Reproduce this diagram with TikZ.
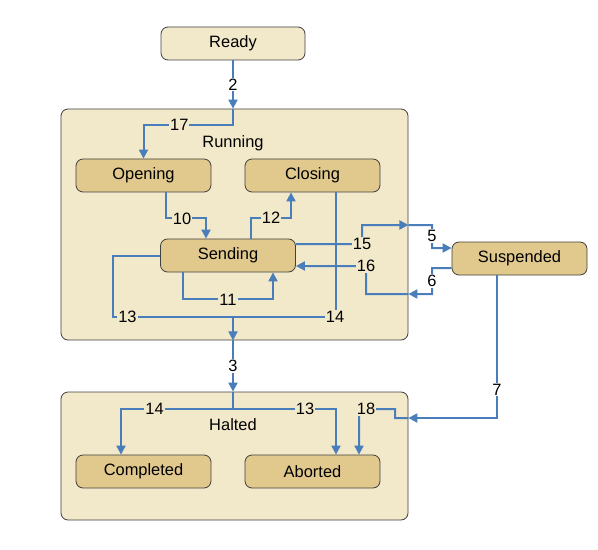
\documentclass[tikz,border=0pt]{standalone}
\usepackage{fontspec}
\setmainfont{Liberation Sans}
\usetikzlibrary{arrows.meta}
\definecolor{groupfill}{HTML}{F2E8CA}
\definecolor{statefill}{HTML}{E1C98D}
\definecolor{flowblue}{HTML}{4A7EBB}
\definecolor{edgegray}{HTML}{404040}
\begin{document}
\begin{tikzpicture}[x=1bp, y=-1bp,
        group_box/.style={draw=edgegray, line width=0.8bp, rounded corners=7bp, fill=groupfill, inner sep=0pt},
        state_box/.style={draw=edgegray, line width=0.8bp, rounded corners=7bp, fill=statefill, minimum width=135bp, minimum height=33bp, inner sep=0pt, font=\fontsize{16.5}{19}\selectfont},
        group_title/.style={font=\fontsize{16.5}{19}\selectfont, inner sep=0pt},
        flow_label/.style={font=\fontsize{16.5}{19}\selectfont, text=black, fill=groupfill, inner sep=1bp},
        out_label/.style={flow_label, fill=white},
        flow/.style={->, flowblue, line width=2bp},
        line/.style={flowblue, line width=2bp},
        >={Triangle[length=9bp, width=9bp]}
    ]
        \useasboundingbox (0,0) rectangle (598,550);

        % Containers
        \node[group_box, minimum width=347bp, minimum height=231bp] (Running) at (234.5,224.5) {};
        \node[group_title] (RunningTitle) at (233,143) {Running};
        \node[group_box, minimum width=347bp, minimum height=128bp] (Halted) at (234.5,456) {};
        \node[group_title] (HaltedTitle) at (233,425) {Halted};

        % States
        \node[state_box, fill=groupfill, minimum width=144bp] (Ready) at (233,43.5) {Ready};
        \node[state_box] (Opening) at (143.5,175.5) {Opening};
        \node[state_box] (Closing) at (312.5,175.5) {Closing};
        \node[state_box] (Sending) at (228,255.5) {Sending};
        \node[state_box] (Suspended) at (519.5,258.5) {Suspended};
        \node[state_box] (Completed) at (143.5,471.5) {Completed};
        \node[state_box] (Aborted) at (312.5,471.5) {Aborted};

        % Join points
        \coordinate (rin) at (Ready.south |- Running.north);
        \coordinate (rjoin) at (233,317);
        \coordinate (rout) at (rjoin |- Running.south);
        \coordinate (hin) at (rjoin |- Halted.north);
        \coordinate (hjoin) at (233,409);
        \coordinate (susout) at (Running.east |- 0,225);
        \coordinate (susin) at (Running.east |- 0,294);
        \coordinate (abortin) at (Halted.east |- 0,418);

        % Ready -> Running
        \draw[flow] (Ready.south) -- node[out_label] {2} (rin);
        \draw[flow] (rin) -- (233,125) -| node[flow_label, pos=0.3] {17} (Opening.north);

        % inside Running
        \draw[flow] ([xshift=22.5bp]Opening.south) -- ++(0,26) -| node[flow_label, pos=0.2] {10} ([xshift=-22bp]Sending.north);
        \draw[flow] ([xshift=23bp]Sending.north) -- ++(0,-21) -| node[flow_label, pos=0.25] {12} ([xshift=-21.5bp]Closing.south);
        \draw[flow] ([xshift=-45bp]Sending.south) -- ++(0,27) -| node[flow_label, pos=0.25] {11} ([xshift=45bp]Sending.south);
        \draw[line] (Sending.west) -| (113,317) -- node[flow_label, pos=0.12] {13} (rjoin);
        \draw[line] ([xshift=23.5bp]Closing.south) |- (rjoin);
        \node[flow_label] (lbl14) at (335,317) {14};
        \draw[flow] (rjoin) -- (rout);

        % Running <-> Suspended
        \draw[flow] ([yshift=11.5bp]Sending.east) -- (362,244) -- (362,225) -- (susout);
        \node[flow_label] (lbl15) at (362,244) {15};
        \draw[flow] (susout) -- (432,225) -- (432,248) -- ([yshift=10.5bp]Suspended.west);
        \node[out_label] (lbl5) at (432,236) {5};
        \draw[flow] ([yshift=-9.5bp]Suspended.west) -- (432,268) -- (432,294) -- (susin);
        \node[out_label] (lbl6) at (432,281) {6};
        \draw[flow] (susin) -- (366,294) -- (366,266) -- ([yshift=-10.5bp]Sending.east);
        \node[flow_label] (lbl16) at (366,266) {16};

        % Running -> Halted
        \draw[flow] (rout) -- node[out_label] {3} (hin);
        \draw[line] (hin) -- (hjoin);
        \draw[flow] (hjoin) -| node[flow_label, pos=0.35] {14} ([xshift=-22.5bp]Completed.north);
        \draw[flow] (hjoin) -| node[flow_label, pos=0.35] {13} ([xshift=23.5bp]Aborted.north);

        % Suspended -> Halted
        \draw[flow] ([xshift=-22.5bp]Suspended.south) |- node[out_label, pos=0.4] {7} (abortin);
        \draw[flow] (abortin) -- (395,418) -- (395,409) -- (359,409) -- ([xshift=46.5bp]Aborted.north);
        \node[flow_label] (lbl18) at (366,409) {18};
\end{tikzpicture}
\end{document}
